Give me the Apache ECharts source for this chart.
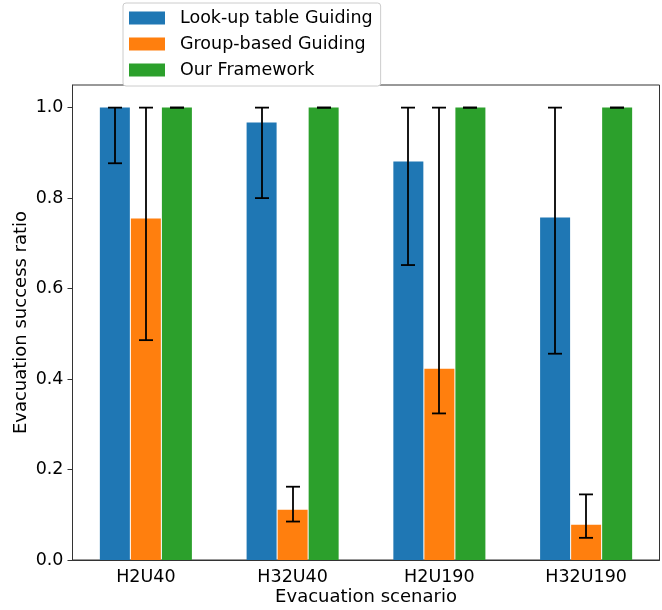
<!DOCTYPE html>
<html>
<head>
<meta charset="utf-8">
<script src="https://cdn.jsdelivr.net/npm/echarts@6/dist/echarts.min.js"></script>
<style>
html, body { margin: 0; padding: 0; background: #fff; }
#main { width: 662px; height: 610px; }
</style>
</head>
<body>
<div id="main"></div>
<script>
var myChart = echarts.init(document.getElementById('main'));

var scenarios = ['H2U40', 'H32U40', 'H2U190', 'H32U190'];
var seriesNames = ['Look-up table Guiding', 'Group-based Guiding', 'Our Framework'];
var colors = ['#1f77b4', '#ff7f0e', '#2ca02c'];

// mean values
var lookupMean = [1.0, 0.967, 0.881, 0.757];
var groupMean = [0.755, 0.111, 0.423, 0.078];
var oursMean = [1.0, 1.0, 1.0, 1.0];

// error bar ranges [low, high]
var lookupErr = [[0.877, 1.0], [0.800, 1.0], [0.652, 1.0], [0.456, 1.0]];
var groupErr = [[0.486, 1.0], [0.085, 0.162], [0.324, 1.0], [0.049, 0.145]];
var oursErr = [[1.0, 1.0], [1.0, 1.0], [1.0, 1.0], [1.0, 1.0]];

var yTicks = [0, 0.2, 0.4, 0.6, 0.8, 1.0];

var means = [lookupMean, groupMean, oursMean];
var errs = [lookupErr, groupErr, oursErr];
var offsets = [-31, 0, 31];

var font = 'DejaVu Sans';

var errData = [];
for (var s = 0; s < errs.length; s++) {
    for (var i = 0; i < scenarios.length; i++) {
        errData.push([i, errs[s][i][0], errs[s][i][1], s]);
    }
}

var series = [];
for (var k = 0; k < means.length; k++) {
    series.push({
        name: seriesNames[k],
        type: 'bar',
        data: means[k],
        barWidth: 30,
        barGap: '3.4%',
        itemStyle: { color: colors[k] },
        emphasis: { disabled: true },
        animation: false
    });
}

series.push({
    type: 'custom',
    data: errData,
    z: 10,
    animation: false,
    renderItem: function (params, api) {
        var cat = api.value(0);
        var lo = api.coord([cat, api.value(1)]);
        var hi = api.coord([cat, api.value(2)]);
        var x = Math.round(lo[0] + offsets[api.value(3)]);
        var cap = 7;
        var style = { stroke: '#000', lineWidth: 1.8 };
        return {
            type: 'group',
            children: [
                { type: 'line', shape: { x1: x, y1: lo[1], x2: x, y2: hi[1] }, style: style },
                { type: 'line', shape: { x1: x - cap, y1: lo[1], x2: x + cap, y2: lo[1] }, style: style },
                { type: 'line', shape: { x1: x - cap, y1: hi[1], x2: x + cap, y2: hi[1] }, style: style }
            ]
        };
    }
});

option = {
    backgroundColor: '#fff',
    textStyle: { fontFamily: font },
    legend: {
        data: seriesNames,
        orient: 'vertical',
        left: 123,
        top: 3,
        itemWidth: 36,
        itemHeight: 13,
        itemGap: 8,
        padding: [6, 8, 7, 6],
        borderColor: '#ccc',
        borderWidth: 1,
        borderRadius: 3,
        backgroundColor: '#fff',
        icon: 'rect',
        textStyle: { fontFamily: font, fontSize: 17.5, lineHeight: 18, color: '#000', padding: [0, 0, 0, 10] },
        selectedMode: false,
        z: 20
    },
    grid: {
        left: 72.5,
        top: 85,
        right: 2.5,
        bottom: 50,
        outerBoundsMode: 'none',
        show: true,
        borderColor: '#333',
        borderWidth: 1
    },
    xAxis: {
        type: 'category',
        data: scenarios,
        name: 'Evacuation scenario',
        nameLocation: 'middle',
        nameGap: 28,
        nameMoveOverlap: false,
        nameTextStyle: { fontFamily: font, fontSize: 18, color: '#000' },
        axisLine: { lineStyle: { color: '#333' } },
        axisTick: { alignWithLabel: true, length: 5, lineStyle: { color: '#333' } },
        axisLabel: { fontFamily: font, fontSize: 17.5, color: '#000', margin: 8 },
        splitLine: { show: false }
    },
    yAxis: {
        type: 'value',
        min: 0,
        max: 1.05,
        interval: 0.2,
        name: 'Evacuation success ratio',
        nameLocation: 'middle',
        nameGap: 42,
        nameMoveOverlap: false,
        nameTextStyle: { fontFamily: font, fontSize: 18, color: '#000' },
        axisLine: { show: true, lineStyle: { color: '#333' } },
        axisTick: { show: true, length: 5, lineStyle: { color: '#333' } },
        axisLabel: {
            fontFamily: font, fontSize: 17.5, color: '#000', margin: 9,
            showMaxLabel: false,
            formatter: function (v) {
                for (var t = 0; t < yTicks.length; t++) {
                    if (Math.abs(v - yTicks[t]) < 1e-6) return yTicks[t].toFixed(1);
                }
                return '';
            }
        },
        splitLine: { show: false }
    },
    series: series
};

myChart.setOption(option);
</script>
</body>
</html>
